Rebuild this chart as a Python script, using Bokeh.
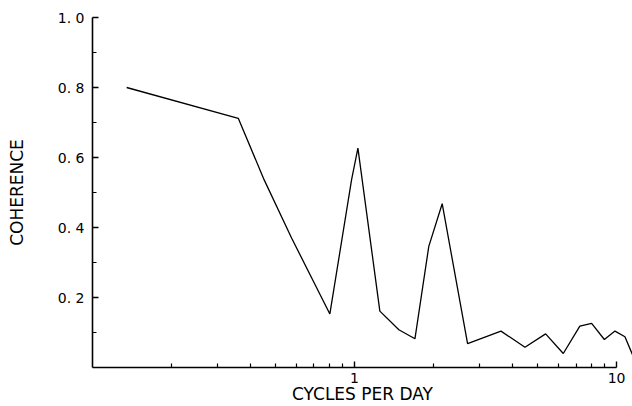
from bokeh.plotting import figure
from bokeh.models import Range1d, FixedTicker, CustomJSTickFormatter
from bokeh.embed import file_html
from bokeh.resources import INLINE

# Data (frequency in cycles/day, coherence)
freq = [0.135, 0.36, 0.452, 0.575, 0.805, 0.974, 1.03, 1.249, 1.476, 1.70,
        1.92, 2.16, 2.70, 3.62, 4.47, 5.36, 6.26, 7.24, 8.03, 8.98, 9.86,
        10.76, 11.6]
coherence = [0.80, 0.712, 0.536, 0.370, 0.153, 0.536, 0.627, 0.161, 0.108,
             0.082, 0.346, 0.468, 0.068, 0.104, 0.058, 0.096, 0.040, 0.118,
             0.126, 0.080, 0.104, 0.088, 0.030]

x_major = [1, 10]
x_minor = [0.2, 0.3, 0.4, 0.5, 0.6, 0.7, 0.8, 0.9, 2, 3, 4, 5, 6, 7, 8, 9]
y_major = [0.2, 0.4, 0.6, 0.8, 1.0]
y_minor = [0.1, 0.3, 0.5, 0.7, 0.9]

FONT = "DejaVu Sans"

p = figure(width=632, height=406, x_axis_type="log",
           x_range=Range1d(0.1, 11.5), y_range=Range1d(0, 1),
           output_backend="svg", toolbar_location=None,
           min_border_left=92, min_border_right=0,
           min_border_top=17, min_border_bottom=39)

p.line(freq, coherence, line_color="black", line_width=1.3)

p.grid.visible = False
p.outline_line_color = None
p.background_fill_color = "white"
p.border_fill_color = "white"

for ax in (p.xaxis[0], p.yaxis[0]):
    ax.axis_line_color = "black"
    ax.axis_line_width = 1.6
    ax.major_tick_line_color = "black"
    ax.minor_tick_line_color = "black"
    ax.major_tick_line_width = 1.4
    ax.minor_tick_line_width = 1.2
    ax.major_tick_in = 6
    ax.major_tick_out = 0
    ax.minor_tick_in = 4
    ax.minor_tick_out = 0
    ax.major_label_text_font = FONT
    ax.major_label_text_color = "black"
    ax.axis_label_text_font = FONT
    ax.axis_label_text_font_style = "normal"
    ax.axis_label_text_color = "black"

xa = p.xaxis[0]
xa.ticker = FixedTicker(ticks=x_major, minor_ticks=x_minor)
xa.formatter = CustomJSTickFormatter(code="return String(Math.round(tick));")
xa.bounds = (0.1, 10)
xa.axis_label = "CYCLES PER DAY"
xa.major_label_text_font_size = "14px"
xa.axis_label_text_font_size = "17px"
xa.major_label_standoff = 5
xa.axis_label_standoff = -2

ya = p.yaxis[0]
ya.ticker = FixedTicker(ticks=y_major, minor_ticks=y_minor)
ya.formatter = CustomJSTickFormatter(code="return tick.toFixed(1).replace('.', '. ');")
ya.bounds = (0, 1)
ya.axis_label = "COHERENCE"
ya.major_label_text_font_size = "14px"
ya.axis_label_text_font_size = "17px"
ya.major_label_standoff = 8
ya.axis_label_standoff = 28

open("out.html", "w").write(file_html(p, INLINE))
